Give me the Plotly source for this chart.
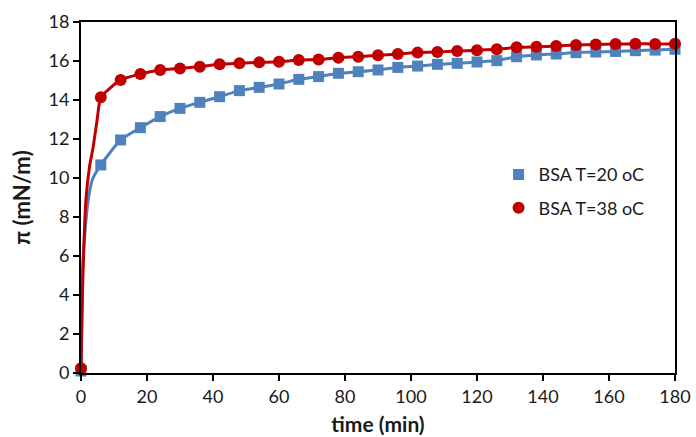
import plotly.graph_objects as go

# Marker sample times (min)
time_min = [0, 6, 12, 18, 24, 30, 36, 42, 48, 54, 60, 66, 72, 78, 84, 90, 96, 102,
            108, 114, 120, 126, 132, 138, 144, 150, 156, 162, 168, 174, 180]

# Surface pressure (mN/m)
bsa_20 = [0.1, 10.67, 11.95, 12.58, 13.15, 13.57, 13.88, 14.17, 14.48, 14.65, 14.82,
          15.06, 15.20, 15.37, 15.45, 15.54, 15.67, 15.74, 15.83, 15.88, 15.95,
          16.02, 16.22, 16.31, 16.36, 16.43, 16.46, 16.49, 16.53, 16.56, 16.60]
bsa_38 = [0.25, 14.14, 15.03, 15.33, 15.54, 15.62, 15.71, 15.83, 15.88, 15.93, 15.96,
          16.05, 16.08, 16.17, 16.22, 16.29, 16.36, 16.43, 16.46, 16.51, 16.55,
          16.60, 16.70, 16.73, 16.77, 16.82, 16.85, 16.87, 16.89, 16.87, 16.89]

# Early rise of the fitted lines (no markers)
rise20_t = [0.5, 1.2, 2.2, 3.4]
rise20_v = [5.4, 7.2, 8.9, 9.9]
rise38_t = [0.5, 1.5, 2.6, 3.7, 4.9]
rise38_v = [4.5, 8.9, 10.6, 11.6, 13.0]

BLUE = "#4F81BD"
RED = "#C00000"
FONT = "Lato, 'Open Sans', sans-serif"
TXT = "#1a1a1a"

fig = go.Figure()

for rt, rv, vals, col in [(rise20_t, rise20_v, bsa_20, BLUE),
                          (rise38_t, rise38_v, bsa_38, RED)]:
    fig.add_trace(go.Scatter(
        x=[time_min[0]] + rt + time_min[1:],
        y=[vals[0]] + rv + vals[1:],
        mode="lines", line=dict(color=col, width=3, shape="spline", smoothing=0.5),
        showlegend=False, hoverinfo="skip", cliponaxis=False))

fig.add_trace(go.Scatter(x=time_min, y=bsa_20, mode="markers", name="BSA T=20 oC",
                         marker=dict(symbol="square", size=11, color=BLUE),
                         cliponaxis=False, legend="legend"))
fig.add_trace(go.Scatter(x=time_min, y=bsa_38, mode="markers", name="BSA T=38 oC",
                         marker=dict(symbol="circle", size=12, color=RED),
                         cliponaxis=False, legend="legend2"))

axis_common = dict(showline=True, linecolor="black", linewidth=2, mirror=True,
                   ticks="outside", ticklen=6, tickwidth=2, tickcolor="black",
                   showgrid=False, zeroline=False, automargin=False,
                   tickfont=dict(family=FONT, size=18, color=TXT))

legend_style = dict(font=dict(family=FONT, size=18, color=TXT), bgcolor="rgba(0,0,0,0)",
                    borderwidth=0, xanchor="left", yanchor="middle", itemwidth=30)

fig.update_layout(
    width=696, height=437,
    margin=dict(l=81, r=21, t=22, b=64),
    plot_bgcolor="white", paper_bgcolor="white",
    xaxis=dict(range=[0, 180], tickvals=list(range(0, 181, 20)),
               title=dict(text="<b>time (min)</b>", font=dict(family=FONT, size=21, color=TXT),
                          standoff=12),
               **axis_common),
    yaxis=dict(range=[0, 18], tickvals=list(range(0, 19, 2)),
               title=dict(text="<b>π (mN/m)</b>", font=dict(family=FONT, size=22, color=TXT),
                          standoff=12),
               **axis_common),
    legend=dict(x=0.703, y=0.565, **legend_style),
    legend2=dict(x=0.703, y=0.47, **legend_style),
)

fig.write_html("out.html")
